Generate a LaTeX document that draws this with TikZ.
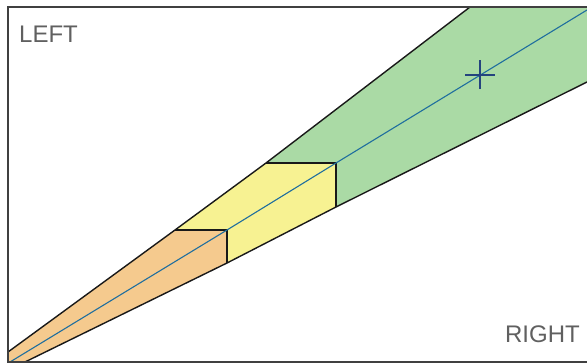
\documentclass[tikz,border=0pt]{standalone}
\usepackage{fontspec}
\setmainfont{Liberation Sans}
\usepackage{xcolor}
\usetikzlibrary{positioning}
\definecolor{beamorange}{HTML}{F5CA8E}
\definecolor{beamyellow}{HTML}{F7F292}
\definecolor{beamgreen}{HTML}{AADAA5}
\definecolor{axisblue}{HTML}{1F6E9E}
\definecolor{crossblue}{HTML}{24437E}
\definecolor{labelgray}{HTML}{606060}
\tikzset{
  edge/.style={black!90, line width=1.4pt, line join=round},
  sidelabel/.style={inner sep=0pt, text=labelgray, font=\fontsize{24}{28}\selectfont}
}

\begin{document}
\begin{tikzpicture}[x=1pt, y=-1pt]
\useasboundingbox (0,0) rectangle (587,364);
\begin{scope}
\clip (8,7) rectangle (587,362);
\coordinate (u0) at (8,352);
\coordinate (u1) at (175,230);
\coordinate (u2) at (266,163);
\coordinate (u3) at (470,7);
\coordinate (l0) at (25,362);
\coordinate (l1) at (227,263);
\coordinate (l2) at (336,207);
\coordinate (l3) at (587,82);
\coordinate (m1) at (227,230);
\coordinate (m2) at (336,163);
\fill[beamorange] (u0) -- (u1) -- (m1) -- (l1) -- (l0) -- (8,362) -- cycle;
\fill[beamyellow] (u1) -- (u2) -- (m2) -- (l2) -- (l1) -- (m1) -- cycle;
\fill[beamgreen] (u2) -- (u3) -- (590,7) -- (590,81) -- (l3) -- (l2) -- (m2) -- cycle;
\draw[edge] (u0) -- (u1) -- (u2) -- (u3);
\draw[edge] (l0) -- (l1) -- (l2) -- (l3) -- (590,81);
\draw[edge] (u1) -- (m1) -- (l1);
\draw[edge] (u2) -- (m2) -- (l2);
\draw[axisblue, line width=1.1pt] (10,362) -- (m1) -- (m2) -- (587,10);
\end{scope}
\coordinate (target) at (480,75);
\draw[crossblue, line width=2.8pt] ([xshift=-15pt]target) -- ([xshift=15pt]target);
\draw[crossblue, line width=2.8pt] ([yshift=-14pt]target) -- ([yshift=15pt]target);
\draw[black!75, line width=1.3pt] (587,7) -- (8,7) -- (8,362) -- (587,362);
\node[sidelabel, anchor=base west] (leftlabel) at (19,42) {LEFT};
\node[sidelabel, anchor=base east] (rightlabel) at (580,342) {RIGHT};
\end{tikzpicture}
\end{document}
